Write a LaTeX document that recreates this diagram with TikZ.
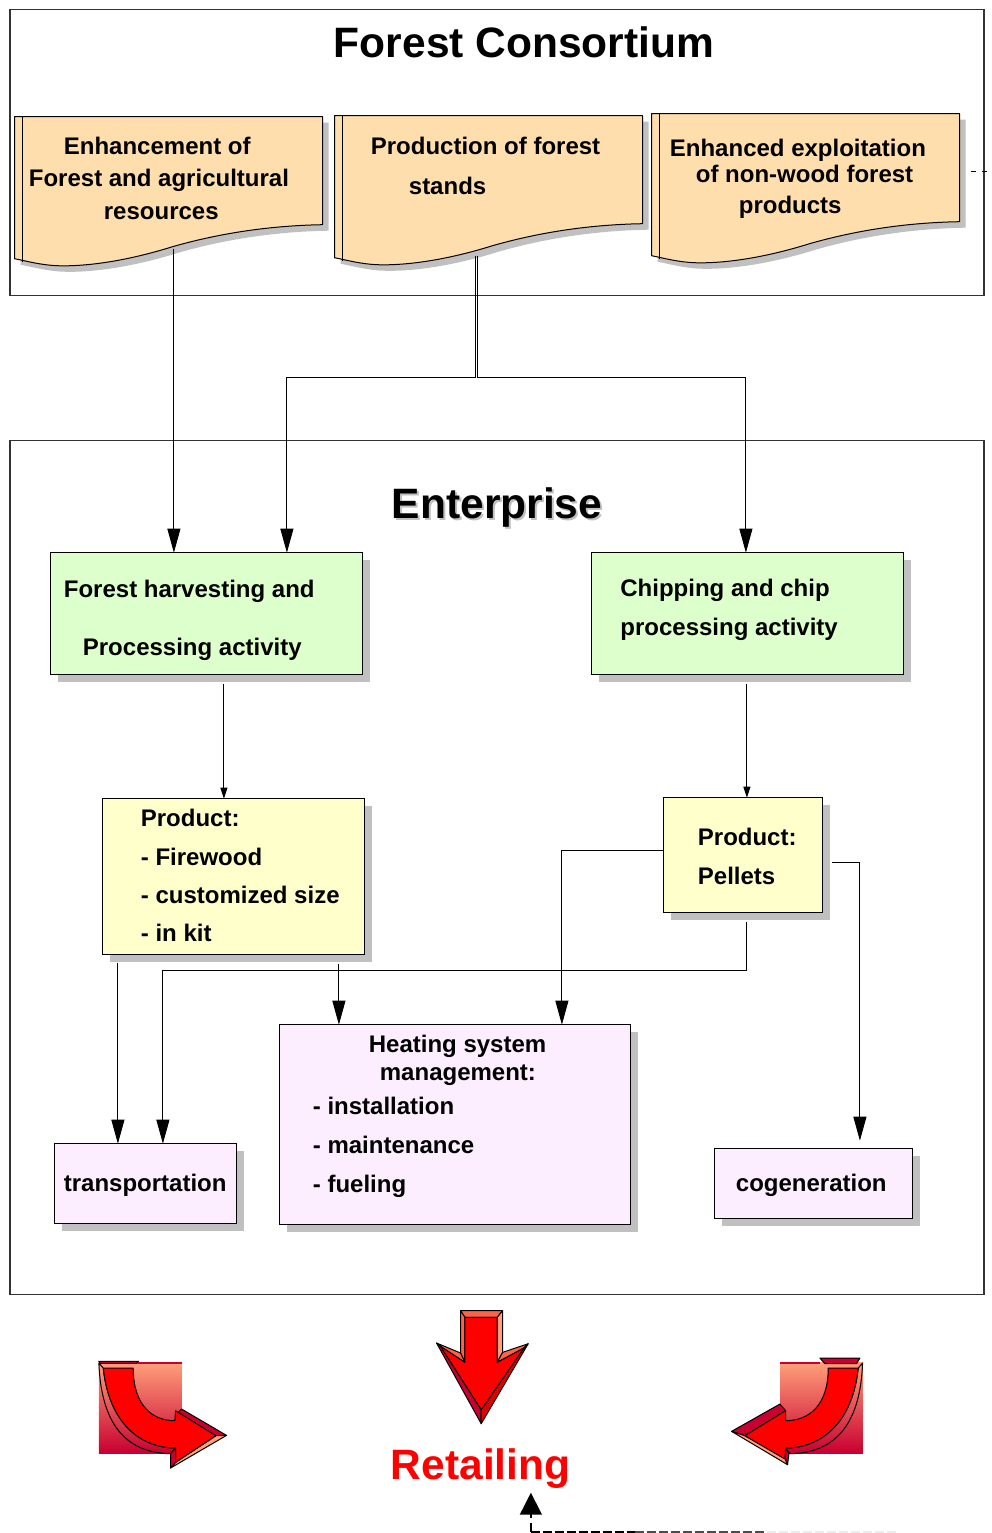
\documentclass[tikz,border=0pt]{standalone}
\usepackage{fontspec}
\setmainfont{Liberation Sans}
\usetikzlibrary{arrows.meta,shadows}
\definecolor{framec}{HTML}{333333}
\definecolor{docc}{HTML}{FFDEAD}
\definecolor{greenc}{HTML}{DDFFCC}
\definecolor{yellowc}{HTML}{FFFFCC}
\definecolor{pinkc}{HTML}{FCEEFF}
\definecolor{shadowc}{HTML}{C0C0C0}
\definecolor{salmonc}{HTML}{FFA07A}
\definecolor{tomatoc}{HTML}{FF6347}
\definecolor{crimsonc}{HTML}{C80030}
\definecolor{deepred}{HTML}{E00000}
\definecolor{retail}{HTML}{FF0000}
\newcommand\tl[4]{\node[lbl] (#1) at (#2,#3) {#4};}
\tikzset{
 lbl/.style={anchor=base west,inner sep=0pt,outer sep=0pt,font=\fontsize{24}{28}\selectfont\bfseries},
 bigt/.style={anchor=base west,inner sep=0pt,outer sep=0pt,font=\fontsize{42.5}{48}\selectfont\bfseries},
 frame/.style={draw=framec,line width=1.2pt,fill=none},
 boxbase/.style={draw=black,line width=1pt,anchor=north west,inner sep=0pt,outer sep=0pt,
   drop shadow={shadow xshift=7pt,shadow yshift=-7pt,fill=shadowc,opacity=1}},
 conn/.style={draw=black,line width=0.9pt},
 bigarrow/.style={conn,-{Triangle[length=24pt,width=13pt]}},
 smallarrow/.style={conn,-{Triangle[length=11pt,width=7pt]}},
 facet/.style={draw=black,line width=1pt,line join=round},
 pics/docshape/.style={code={
   \fill[shadowc,shift={(6,6)}] (0,0) -- (308,0) -- (308,108) .. controls (250,109) and (200,118) .. (158,130) .. controls (110,145) and (70,150) .. (42,149) .. controls (25,148) and (15,145) .. (0,142) -- cycle;
   \draw[fill=docc,draw=black,line width=1pt,line join=round] (0,0) -- (308,0) -- (308,108) .. controls (250,109) and (200,118) .. (158,130) .. controls (110,145) and (70,150) .. (42,149) .. controls (25,148) and (15,145) .. (0,142) -- cycle;
   \draw[black,line width=1pt] (8,0) -- (8,145);
 }}
}
\begin{document}
\begin{tikzpicture}[x=1pt,y=-1pt]
\useasboundingbox (0,0) rectangle (991,1533);
\begin{scope}[shift={(-0.1,-0.3)}]
% frames
\draw[frame] (10,10) rectangle (984,296);
\draw[frame] (10,441) rectangle (984,1295);
\node[bigt] (title) at (334,58) {Forest Consortium};
\node[bigt,text=shadowc] (entshadow) at (394,521) {Enterprise};
\node[bigt] (ent) at (392,519) {Enterprise};
% documents
\pic at (14.6,117) {docshape};
\pic at (334.6,116) {docshape};
\pic at (651.6,114) {docshape};
\tl{a1}{64}{155}{Enhancement of}
\tl{a2}{29}{187}{Forest and agricultural}
\tl{a3}{104}{220}{resources}
\tl{b1}{371}{155}{Production of forest}
\tl{b2}{409}{195}{stands}
\tl{c1}{670}{157}{Enhanced exploitation}
\tl{c2}{696}{183}{of non-wood forest}
\tl{c3}{739}{214}{products}
% boxes
\node[boxbase,fill=greenc,minimum width=312pt,minimum height=122pt] (fh) at (51,553) {};
\node[boxbase,fill=greenc,minimum width=312pt,minimum height=122pt] (ch) at (592,553) {};
\node[boxbase,fill=yellowc,minimum width=262pt,minimum height=156pt] (pf) at (103,799) {};
\node[boxbase,fill=yellowc,minimum width=159pt,minimum height=115pt] (pp) at (664,798) {};
\node[boxbase,fill=pinkc,minimum width=351pt,minimum height=200pt] (hs) at (280,1025) {};
\node[boxbase,fill=pinkc,minimum width=182pt,minimum height=80pt] (tr) at (55,1144) {};
\node[boxbase,fill=pinkc,minimum width=198pt,minimum height=70pt] (cg) at (715,1149) {};
\tl{f1}{64}{598}{Forest harvesting and}
\tl{f2}{83}{656}{Processing activity}
\tl{g1}{620.5}{597}{Chipping and chip}
\tl{g2}{620.5}{636}{processing activity}
\tl{h1}{141}{827}{Product:}
\tl{h2}{141}{865.5}{- Firewood}
\tl{h3}{141}{904}{- customized size}
\tl{h4}{141}{942}{- in kit}
\tl{i1}{698}{846}{Product:}
\tl{i2}{698}{884.5}{Pellets}
\tl{j1}{369}{1053}{Heating system}
\tl{j2}{380}{1081}{management:}
\tl{j3}{313}{1115}{- installation}
\tl{j4}{313}{1154}{- maintenance}
\tl{j5}{313}{1193}{- fueling}
\tl{k1}{64}{1192}{transportation}
\tl{k2}{736}{1192}{cogeneration}
% connector stems
\coordinate (d1out) at (174,249);
\coordinate (d2l) at (476,256);
\coordinate (d2r) at (478,256);
\coordinate (busl) at (287,378);
\coordinate (busr) at (746,378);
\coordinate (fhout) at (224,684);
\coordinate (chout) at (747,684);
\coordinate (pfa) at (118,963);
\coordinate (pfb) at (339,964);
\coordinate (ppdown) at (747,922);
\coordinate (ppbus) at (163,971);
\coordinate (ppleft) at (562,851);
\coordinate (ppright) at (832,863);
\coordinate (cgx) at (860,863);
\coordinate (cgtip) at (860,1141);
\coordinate (dashstart) at (971,172);
\coordinate (dashend) at (992,172);
\coordinate (retin) at (531,1532);
\coordinate (rettip) at (531,1493);
\coordinate (fade1) at (635,1532);
\coordinate (fade2) at (767,1532);
\coordinate (fade3) at (897,1532);
\draw[bigarrow] (d1out) -- (d1out |- fh.north);
\draw[bigarrow] (d2l) -- (d2l |- busl) -- (busl) -- (busl |- fh.north);
\draw[bigarrow] (d2r) -- (d2r |- busr) -- (busr) -- (busr |- ch.north);
\draw[smallarrow] (fhout) -- (fhout |- pf.north);
\draw[smallarrow] (chout) -- (chout |- pp.north);
\draw[bigarrow] (pfa) -- (pfa |- tr.north);
\draw[bigarrow] (pfb) -- (pfb |- hs.north);
\draw[bigarrow] (ppdown) -- (ppdown |- ppbus) -- (ppbus) -- (ppbus |- tr.north);
\draw[bigarrow] (ppleft -| pp.west) -- (ppleft) -- (ppleft |- hs.north);
\draw[bigarrow] (ppright) -- (cgx) -- (cgtip);
\draw[conn,line width=1.6pt,dash pattern=on 5pt off 6pt] (dashstart) -- (dashend);
% retail feedback
\draw[conn,dash pattern=on 9pt off 3pt,line width=1.7pt] (retin) -- (fade1);
\draw[draw=black!70,line width=1.7pt,dash pattern=on 9pt off 3pt] (fade1) -- (fade2);
\draw[draw=black!8,line width=1.7pt,dash pattern=on 9pt off 3pt] (fade2) -- (fade3);
\draw[conn,dash pattern=on 9pt off 5pt,line width=1.5pt,-{Triangle[length=22pt,width=22pt]}] (retin) -- (rettip);
\node[bigt,text=retail,font=\fontsize{42.5}{48}\selectfont\bfseries] (ret) at (391,1480) {Retailing};
% left arrow
\begin{scope}[shift={(80,1340)},x=0.3333pt,y=-0.3333pt]
 \shade[top color=salmonc,bottom color=crimsonc] (57,67) rectangle (305,340);
 \fill[crimsonc] (130,66) rectangle (305,73);
 \fill[crimsonc,draw=black,line width=1pt] (57,65) -- (175,65) -- (170,71) -- (60,71) -- cycle;
 \draw[facet,fill=crimsonc] (305,208) -- (440,287) -- (408,288) -- (287,225) -- cycle;
 \draw[facet,fill=salmonc] (287,368) -- (408,288) -- (440,287) -- (272,385) -- cycle;
 \draw[facet,top color=salmonc,middle color=salmonc,bottom color=crimsonc] (57,70) -- (70,85) .. controls (90,270) and (200,325) .. (287,325) -- (272,342) .. controls (170,340) and (65,290) .. (57,70) -- cycle;
 \draw[facet,fill=crimsonc] (287,325) -- (272,342) -- (272,385) -- (287,368) -- cycle;
 \draw[facet,fill=retail] (70,85) -- (160,85) .. controls (160,200) and (220,243) .. (285,243) -- (287,213) -- (408,288) -- (287,368) -- (287,325) .. controls (200,325) and (90,270) .. (70,85) -- cycle;
\end{scope}
% middle arrow
\begin{scope}[shift={(420,1300)},x=0.3333pt,y=-0.3333pt]
 \draw[facet,fill=tomatoc] (122,33) -- (248,33) -- (232,53) -- (135,53) -- cycle;
 \draw[facet,fill=tomatoc] (122,33) -- (135,53) -- (135,188) -- (122,160) -- cycle;
 \draw[facet,fill=salmonc] (248,33) -- (232,53) -- (232,188) -- (248,158) -- cycle;
 \draw[facet,fill=tomatoc] (50,130) -- (122,160) -- (135,188) -- (62,140) -- cycle;
 \draw[facet,fill=tomatoc] (325,132) -- (248,158) -- (232,188) -- (312,145) -- cycle;
 \draw[facet,fill=crimsonc] (50,130) -- (62,140) -- (184,330) -- (184,372) -- cycle;
 \draw[facet,fill=deepred] (325,132) -- (312,145) -- (184,330) -- (184,372) -- cycle;
 \draw[facet,fill=retail] (135,53) -- (232,53) -- (232,188) -- (312,145) -- (184,330) -- (62,140) -- (135,188) -- cycle;
\end{scope}
% right arrow
\begin{scope}[shift={(720,1340)},x=0.3333pt,y=-0.3333pt]
 \shade[top color=salmonc,bottom color=crimsonc] (181,67) rectangle (429,340);
 \fill[crimsonc] (181,66) rectangle (300,72);
 \draw[facet,fill=crimsonc] (300,55) -- (420,55) -- (410,72) -- (315,72) -- cycle;
 \draw[facet,fill=crimsonc] (35,275) -- (180,193) -- (197,213) -- (75,288) -- cycle;
 \draw[facet,fill=salmonc] (35,275) -- (75,288) -- (195,355) -- (203,375) -- cycle;
 \draw[facet,top color=salmonc,bottom color=crimsonc] (428,70) -- (415,85) .. controls (395,270) and (285,325) .. (197,325) -- (210,342) .. controls (315,340) and (420,290) .. (428,70) -- cycle;
 \draw[facet,fill=crimsonc] (197,325) -- (207,342) -- (203,375) -- (195,355) -- cycle;
 \draw[facet,fill=retail] (415,85) -- (325,85) .. controls (325,200) and (265,243) .. (197,243) -- (197,213) -- (75,288) -- (195,358) -- (197,325) .. controls (285,325) and (395,270) .. (415,85) -- cycle;
\end{scope}
\end{scope}
\end{tikzpicture}
\end{document}
